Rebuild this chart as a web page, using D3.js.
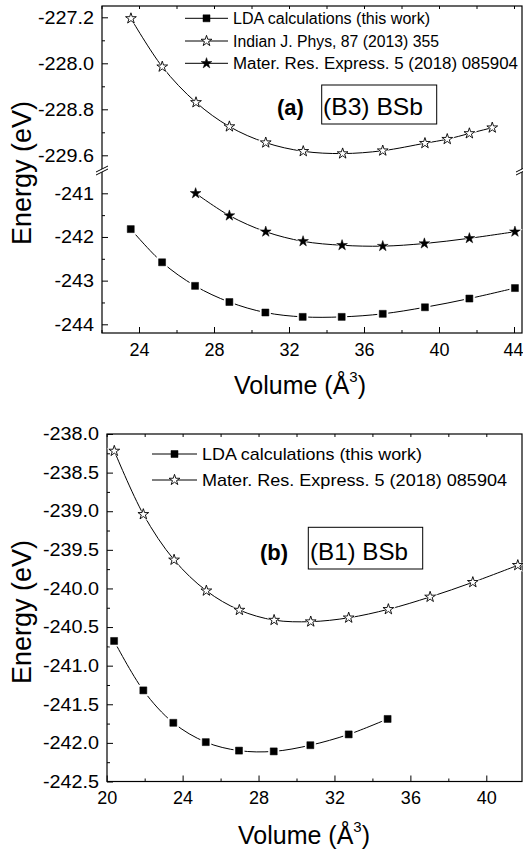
<!DOCTYPE html>
<html>
<head>
<meta charset="utf-8">
<script src="https://cdn.jsdelivr.net/npm/d3@7"></script>
<style>
  body { margin: 0; background: #fff; }
  svg { display: block; }
  text { font-family: Arial, "Liberation Sans", sans-serif; fill: #000; }
</style>
</head>
<body>
<div id="chart"></div>
<script>

// ---- panel (a) : B3 BSb ----
var ldaA_V = [23.56, 25.23, 26.99, 28.82, 30.74, 32.73, 34.81, 37.0, 39.25, 41.62, 44.05];
var ldaA_E = [-241.82, -242.58, -243.12, -243.49, -243.73, -243.83, -243.83, -243.76, -243.61, -243.41, -243.17];
var indA_V = [23.57, 25.24, 27.04, 28.82, 30.76, 32.76, 34.86, 37.0, 39.25, 40.44, 41.62, 42.84];
var indA_E = [-227.22, -228.06, -228.68, -229.10, -229.38, -229.53, -229.57, -229.52, -229.39, -229.32, -229.22, -229.12];
var matA_V = [27.02, 28.82, 30.76, 32.75, 34.83, 37.0, 39.22, 41.62, 44.05];
var matA_E = [-241.0, -241.51, -241.88, -242.10, -242.19, -242.21, -242.15, -242.03, -241.88];

// ---- panel (b) : B1 BSb ----
var ldaB_V = [20.39, 21.93, 23.51, 25.22, 26.97, 28.80, 30.73, 32.75, 34.80];
var ldaB_E = [-240.68, -241.32, -241.74, -241.99, -242.10, -242.11, -242.03, -241.89, -241.69];
var matB_V = [20.4, 21.93, 23.55, 25.25, 26.99, 28.82, 30.75, 32.75, 34.84, 37.04, 39.29, 41.66];
var matB_E = [-238.22, -239.04, -239.63, -240.03, -240.28, -240.41, -240.43, -240.38, -240.27, -240.11, -239.92, -239.70];

// tick values
var xTicksA = [24, 28, 32, 36, 40, 44];
var xMinorA = [22, 26, 30, 34, 38, 42];
var yTicksAup = [-227.2, -228.0, -228.8, -229.6];
var yMinorAup = [-227.6, -228.4, -229.2];
var yTicksAlo = [-241, -242, -243, -244];
var yMinorAlo = [-241.5, -242.5, -243.5];
var xTicksB = [20, 24, 28, 32, 36, 40];
var xMinorB = [22, 26, 30, 34, 38];
var yTicksB = [-238.0, -238.5, -239.0, -239.5, -240.0, -240.5, -241.0, -241.5, -242.0, -242.5];
var yMinorB = [-238.25, -238.75, -239.25, -239.75, -240.25, -240.75, -241.25, -241.75, -242.25];

var legendA = ["LDA calculations (this work)", "Indian J. Phys, 87 (2013) 355", "Mater. Res. Express. 5 (2018) 085904"];
var legendB = ["LDA calculations (this work)", "Mater. Res. Express. 5 (2018) 085904"];

var W = 523, H = 857;
var svg = d3.select("#chart").append("svg").attr("width", W).attr("height", H);

var star = d3.symbol().type(d3.symbolStar);
var square = d3.symbol().type(d3.symbolSquare);

function zip(xs, ys){
  return xs.map(function(v, i){ return [v, ys[i]]; });
}

function marker(kind){
  return kind == "square" ? square.size(49)() : star.size(36)();
}

// one series: smooth line + markers with a white halo so the line stops short of them
function series(g, x, y, pts, kind){
  var line = d3.line()
    .x(function(d){ return x(d[0]); })
    .y(function(d){ return y(d[1]); })
    .curve(d3.curveCatmullRom.alpha(0.5));
  g.append("path").attr("d", line(pts))
    .attr("fill", "none").attr("stroke", "#000").attr("stroke-width", 1);
  var halo = kind == "square" ? square.size(121)() : star.size(75)();
  pts.forEach(function(d){
    var t = "translate(" + x(d[0]) + "," + y(d[1]) + ")";
    g.append("path").attr("d", halo).attr("transform", t).attr("fill", "#fff");
    g.append("path").attr("d", marker(kind)).attr("transform", t)
      .attr("fill", kind == "open" ? "#fff" : "#000")
      .attr("stroke", "#000").attr("stroke-width", kind == "open" ? 0.9 : 0.5);
  });
}

function legendRow(g, x0, x1, y, kind, label, size, len){
  g.append("line").attr("x1", x0).attr("x2", x1).attr("y1", y).attr("y2", y)
    .attr("stroke", "#000").attr("stroke-width", 1);
  g.append("path").attr("d", marker(kind)).attr("transform", "translate(" + ((x0 + x1) / 2) + "," + y + ")")
    .attr("fill", kind == "open" ? "#fff" : "#000").attr("stroke", "#000")
    .attr("stroke-width", kind == "open" ? 0.9 : 0.5);
  g.append("text").attr("x", x1 + 5).attr("y", y + size * 0.36)
    .attr("font-size", size).attr("textLength", len).attr("lengthAdjust", "spacingAndGlyphs")
    .text(label);
}

function styleAxis(sel, fs){
  sel.select(".domain").remove();
  sel.selectAll("line").attr("stroke", "#000").attr("stroke-width", 1);
  sel.selectAll("text").attr("font-size", fs).attr("font-family", "Arial, 'Liberation Sans', sans-serif")
    .text(function(){ return this.textContent.replace("−", "-"); });
}

// y tick labels are a bit wider than plain Arial in the original
function widenY(sel){
  sel.selectAll("text").attr("x", 0).attr("transform", "translate(-8,0) scale(1.1,1)");
}

function volumeTitle(g, cx, y){
  var t = g.append("text").attr("x", cx).attr("y", y).attr("text-anchor", "middle").attr("font-size", 25);
  t.append("tspan").text("Volume (Å");
  t.append("tspan").attr("font-size", 15).attr("dy", -12).text("3");
  t.append("tspan").attr("dy", 12).text(")");
}

function energyTitle(g, x, cy){
  g.append("text").attr("transform", "translate(" + x + "," + cy + ") rotate(-90)")
    .attr("text-anchor", "middle").attr("font-size", 27).text("Energy (eV)");
}

function breakMark(g, x, y){
  g.append("polygon")
    .attr("points", [[x - 6, y + 2], [x + 6, y - 4], [x + 6, y - 1], [x - 6, y + 5]].join(" "))
    .attr("fill", "#fff");
  g.append("line").attr("x1", x - 6).attr("y1", y + 2).attr("x2", x + 6).attr("y2", y - 4).attr("stroke", "#000");
  g.append("line").attr("x1", x - 6).attr("y1", y + 5).attr("x2", x + 6).attr("y2", y - 1).attr("stroke", "#000");
}

// ================= panel (a) =================
var A = {left: 102, right: 522, top: 6, bottom: 333, brk: 170};
var xA = d3.scaleLinear().domain([24, 44]).range([139, 514]);
var yAup = d3.scaleLinear().domain([-229.6, -227.2]).range([155.3, 17.3]);
var yAlo = d3.scaleLinear().domain([-244, -241]).range([324.3, 193.3]);

var gA = svg.append("g");

gA.append("clipPath").attr("id", "clipAup").append("rect")
  .attr("x", A.left).attr("y", A.top).attr("width", A.right - A.left).attr("height", A.brk - A.top);
gA.append("clipPath").attr("id", "clipAlo").append("rect")
  .attr("x", A.left).attr("y", A.brk).attr("width", A.right - A.left + 6).attr("height", A.bottom - A.brk);

// frame
gA.append("rect").attr("x", A.left).attr("y", A.top).attr("width", A.right - A.left)
  .attr("height", A.bottom - A.top).attr("fill", "none").attr("stroke", "#000").attr("stroke-width", 1.2);

// axes
var xAxA = gA.append("g").attr("transform", "translate(0," + A.bottom + ")")
  .call(d3.axisBottom(xA).tickValues(xTicksA).tickSize(-6).tickPadding(10).tickFormat(d3.format("d")))
  .call(styleAxis, 18);
// last label sits right on the page edge
xAxA.selectAll("text").filter(function(d){ return d == 44; }).attr("text-anchor", "end").attr("x", 9);
gA.append("g").attr("transform", "translate(0," + A.bottom + ")")
  .call(d3.axisBottom(xA).tickValues(xMinorA).tickSize(-3).tickFormat(""))
  .call(styleAxis, 18);
gA.append("g").attr("transform", "translate(0," + A.top + ")")
  .call(d3.axisTop(xA).tickValues(xTicksA.concat(xMinorA)).tickSize(-3).tickFormat(""))
  .call(styleAxis, 18);
gA.append("g").attr("transform", "translate(" + A.left + ",0)")
  .call(d3.axisLeft(yAup).tickValues(yTicksAup).tickSize(-6).tickPadding(8).tickFormat(d3.format(".1f")))
  .call(styleAxis, 18).call(widenY);
gA.append("g").attr("transform", "translate(" + A.left + ",0)")
  .call(d3.axisLeft(yAup).tickValues(yMinorAup).tickSize(-3).tickFormat(""))
  .call(styleAxis, 18);
gA.append("g").attr("transform", "translate(" + A.left + ",0)")
  .call(d3.axisLeft(yAlo).tickValues(yTicksAlo).tickSize(-6).tickPadding(8).tickFormat(d3.format("d")))
  .call(styleAxis, 18).call(widenY);
gA.append("g").attr("transform", "translate(" + A.left + ",0)")
  .call(d3.axisLeft(yAlo).tickValues(yMinorAlo).tickSize(-3).tickFormat(""))
  .call(styleAxis, 18);

breakMark(gA, A.left, A.brk);
breakMark(gA, A.right, A.brk);

series(gA.append("g").attr("clip-path", "url(#clipAup)"), xA, yAup, zip(indA_V, indA_E), "open");
series(gA.append("g").attr("clip-path", "url(#clipAlo)"), xA, yAlo, zip(matA_V, matA_E), "star");
series(gA.append("g").attr("clip-path", "url(#clipAlo)"), xA, yAlo, zip(ldaA_V, ldaA_E), "square");

// legend (a)
legendRow(gA, 185, 228, 18.3, "square", legendA[0], 16, 197);
legendRow(gA, 185, 228, 41, "open", legendA[1], 16, 206);
legendRow(gA, 185, 228, 63.3, "star", legendA[2], 16, 285);

gA.append("text").attr("x", 277).attr("y", 115).attr("font-size", 22).attr("font-weight", "bold").text("(a)");
gA.append("rect").attr("x", 321.7).attr("y", 85).attr("width", 115).attr("height", 39)
  .attr("fill", "none").attr("stroke", "#000").attr("stroke-width", 1);
gA.append("text").attr("x", 323).attr("y", 115).attr("font-size", 24).attr("textLength", 100)
  .attr("lengthAdjust", "spacingAndGlyphs").text("(B3) BSb");

volumeTitle(gA, 300, 394);
energyTitle(gA, 31, 173);

// ================= panel (b) =================
var B = {left: 107, right: 522, top: 434, bottom: 781.5};
var xB = d3.scaleLinear().domain([20, 40]).range([106.7, 486.3]);
var yB = d3.scaleLinear().domain([-242.5, -238]).range([781.5, 434]);

var gB = svg.append("g");
gB.append("clipPath").attr("id", "clipB").append("rect")
  .attr("x", B.left).attr("y", B.top - 10).attr("width", B.right - B.left + 6).attr("height", B.bottom - B.top + 10);

gB.append("rect").attr("x", B.left).attr("y", B.top).attr("width", B.right - B.left)
  .attr("height", B.bottom - B.top).attr("fill", "none").attr("stroke", "#000").attr("stroke-width", 1.2);

gB.append("g").attr("transform", "translate(0," + B.bottom + ")")
  .call(d3.axisBottom(xB).tickValues(xTicksB).tickSize(-6).tickPadding(10).tickFormat(d3.format("d")))
  .call(styleAxis, 18);
gB.append("g").attr("transform", "translate(0," + B.bottom + ")")
  .call(d3.axisBottom(xB).tickValues(xMinorB).tickSize(-3).tickFormat(""))
  .call(styleAxis, 18);
gB.append("g").attr("transform", "translate(0," + B.top + ")")
  .call(d3.axisTop(xB).tickValues(xTicksB.concat(xMinorB)).tickSize(-3).tickFormat(""))
  .call(styleAxis, 18);
gB.append("g").attr("transform", "translate(" + B.left + ",0)")
  .call(d3.axisLeft(yB).tickValues(yTicksB).tickSize(-6).tickPadding(8).tickFormat(d3.format(".1f")))
  .call(styleAxis, 18).call(widenY);
gB.append("g").attr("transform", "translate(" + B.left + ",0)")
  .call(d3.axisLeft(yB).tickValues(yMinorB).tickSize(-3).tickFormat(""))
  .call(styleAxis, 18);

series(gB.append("g").attr("clip-path", "url(#clipB)"), xB, yB, zip(matB_V, matB_E), "open");
series(gB.append("g").attr("clip-path", "url(#clipB)"), xB, yB, zip(ldaB_V, ldaB_E), "square");

legendRow(gB, 152, 197, 454, "square", legendB[0], 17, 220);
legendRow(gB, 152, 197, 480, "open", legendB[1], 17, 305);

gB.append("text").attr("x", 260).attr("y", 560).attr("font-size", 22).attr("font-weight", "bold").text("(b)");
gB.append("rect").attr("x", 308.3).attr("y", 527.3).attr("width", 114.4).attr("height", 41.7)
  .attr("fill", "none").attr("stroke", "#000").attr("stroke-width", 1);
gB.append("text").attr("x", 310).attr("y", 560).attr("font-size", 24).attr("textLength", 98)
  .attr("lengthAdjust", "spacingAndGlyphs").text("(B1) BSb");

volumeTitle(gB, 304, 844);
energyTitle(gB, 31, 612);

</script>
</body>
</html>
